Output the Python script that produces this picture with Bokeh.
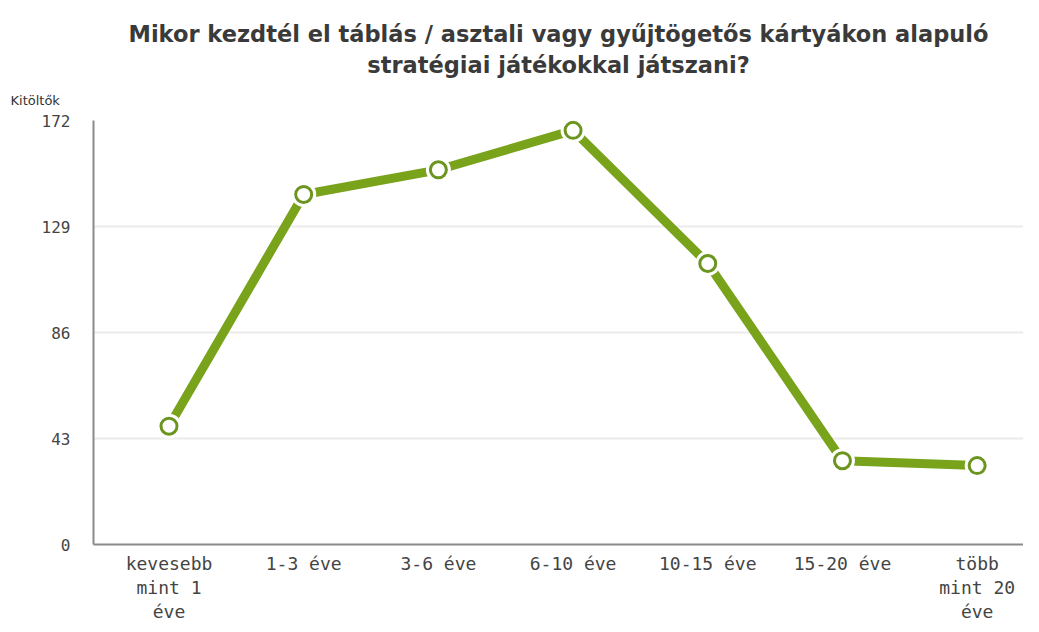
from bokeh.plotting import figure
from bokeh.models import FixedTicker, Range1d, Title
from bokeh.embed import file_html
from bokeh.resources import INLINE

categories = ["kevesebb\nmint 1\néve", "1-3 éve", "3-6 éve", "6-10 éve",
              "10-15 éve", "15-20 éve", "több\nmint 20\néve"]
values = [48, 142, 152, 168, 114, 34, 32]
y_ticks = [0, 43, 86, 129, 172]

title_line1 = "Mikor kezdtél el táblás / asztali vagy gyűjtögetős kártyákon alapuló"
title_line2 = "stratégiai játékokkal játszani?"
y_title = "Kitöltők"

xs = list(range(len(categories)))

p = figure(frame_width=930, frame_height=424, output_backend="svg", toolbar_location=None,
           x_range=Range1d(-0.5605, 6.344), y_range=Range1d(0, 172),
           min_border_left=93, min_border_right=0, min_border_top=120,
           min_border_bottom=70)
p.outline_line_color = None
p.background_fill_color = "white"
p.border_fill_color = "white"

green = "#78a31b"
p.line(xs, values, line_color=green, line_width=9)
p.scatter(xs, values, size=25, fill_color="white", line_color=None)
p.scatter(xs, values, size=16, fill_color="white", line_color="#6c9520", line_width=3)

# axes
p.xaxis.ticker = FixedTicker(ticks=xs)
p.xaxis.major_label_overrides = {i: c for i, c in zip(xs, categories)}
p.yaxis.ticker = FixedTicker(ticks=y_ticks)
for ax in (p.xaxis[0], p.yaxis[0]):
    ax.axis_line_color = "#8a8a8a"
    ax.axis_line_width = 2
    ax.major_tick_line_color = None
    ax.minor_tick_line_color = None
    ax.major_label_text_color = "#444444"
    ax.major_label_text_font = "DejaVu Sans Mono"
p.xaxis.major_label_text_font_size = "18px"
p.xaxis.major_label_standoff = 2
p.xaxis.major_label_text_line_height = 1.15
p.yaxis.major_label_text_font_size = "16px"
p.yaxis.major_label_standoff = 17

p.xgrid.grid_line_color = None
p.ygrid.grid_line_color = "#ebebeb"
p.ygrid.grid_line_width = 2

# main title, first line (outermost)
p.title.text = title_line1
p.title.align = "center"
p.title.standoff = 6
p.title.text_font = "DejaVu Sans"
p.title.text_font_style = "bold"
p.title.text_font_size = "22.5px"
p.title.text_color = "#3a3a3a"

# added titles: first added sits nearest the frame
p.add_layout(Title(text=y_title, align="left", offset=-83, standoff=26,
                   text_font="DejaVu Sans", text_font_style="normal",
                   text_font_size="13px", text_color="#333333"), "above")
p.add_layout(Title(text=title_line2, align="center", standoff=0, text_font="DejaVu Sans",
                   text_font_style="bold", text_font_size="22.5px",
                   text_color="#3a3a3a"), "above")

open("out.html", "w").write(file_html(p, INLINE))
